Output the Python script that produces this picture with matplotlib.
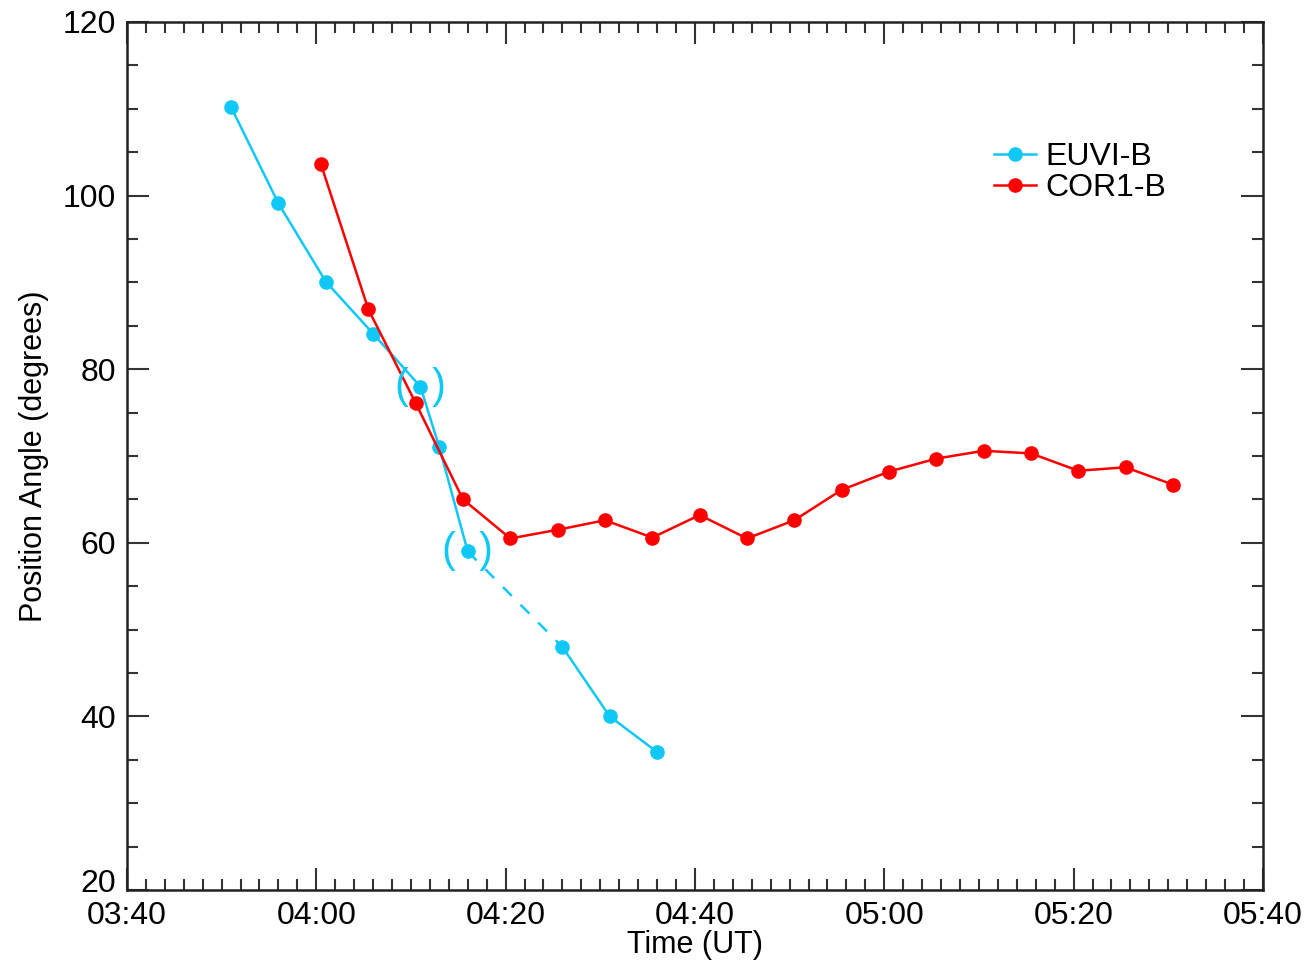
import matplotlib
matplotlib.use("Agg")
import matplotlib.pyplot as plt
import matplotlib.transforms as mtransforms
from matplotlib.ticker import MultipleLocator, FuncFormatter

# minutes after 03:40 UT
euvi_t = [11, 16, 21, 26, 31, 33, 36, 46, 51, 56]
euvi_pa = [110.2, 99.1, 90.1, 84.1, 78.0, 71.0, 59.0, 48.0, 40.0, 35.9]
euvi_uncertain = [31, 36]          # points shown in brackets
euvi_gap = (36, 46)                # dashed interpolation segment

cor1_t = [20.5, 25.5, 30.5, 35.5, 40.5, 45.5, 50.5, 55.5, 60.5, 65.5, 70.5,
          75.5, 80.5, 85.5, 90.5, 95.5, 100.5, 105.5, 110.5]
cor1_pa = [103.6, 86.9, 76.1, 65.0, 60.5, 61.5, 62.6, 60.6, 63.2, 60.5, 62.6,
           66.1, 68.2, 69.7, 70.6, 70.3, 68.3, 68.7, 66.7]

cyan = "#10c8f5"
red = "#ff0000"

plt.rcParams["font.family"] = ["Liberation Sans", "DejaVu Sans"]

fig = plt.figure(figsize=(13.06, 9.6), dpi=100)
ax = fig.add_axes([0.0972, 0.0729, 0.8698, 0.9042])

# EUVI-B: solid before and after the gap, dashed across it
i0 = euvi_t.index(euvi_gap[0])
i1 = euvi_t.index(euvi_gap[1])
ax.plot(euvi_t[:i0 + 1], euvi_pa[:i0 + 1], color=cyan, lw=1.8, marker="o", ms=9.5,
        label="EUVI-B")
ax.plot(euvi_t[i0:i1 + 1], euvi_pa[i0:i1 + 1], color=cyan, lw=1.8, ls=(0, (5, 5)))
ax.plot(euvi_t[i1:], euvi_pa[i1:], color=cyan, lw=1.8, marker="o", ms=9.5)

ax.plot(cor1_t, cor1_pa, color=red, lw=1.8, marker="o", ms=9.5, label="COR1-B")

for t in euvi_uncertain:
    pa = euvi_pa[euvi_t.index(t)]
    ax.text(t, pa, "(  )", color=cyan, fontsize=30, ha="center", va="center")

ax.set_xlim(0, 120)
ax.set_ylim(20, 120)
ax.xaxis.set_major_locator(MultipleLocator(20))
ax.xaxis.set_minor_locator(MultipleLocator(2))
ax.yaxis.set_major_locator(MultipleLocator(20))
ax.yaxis.set_minor_locator(MultipleLocator(5))


def hhmm(v, pos):
    m = int(round(v)) + 3 * 60 + 40
    return f"{m // 60:02d}:{m % 60:02d}"


ax.xaxis.set_major_formatter(FuncFormatter(hhmm))
ax.tick_params(which="both", direction="in", top=True, right=True,
               labelsize=23, width=1.5, color="#333333")
ax.tick_params(which="major", length=16, pad=8)
ax.tick_params(which="minor", length=8)
for s in ax.spines.values():
    s.set_linewidth(1.8)
    s.set_color("#222222")

ax.set_xlabel("Time (UT)", fontsize=22, labelpad=-1)
ax.set_ylabel("Position Angle (degrees)", fontsize=22, labelpad=10)

ax.legend(loc="upper left", bbox_to_anchor=(0.738, 0.895), frameon=False,
          fontsize=23, handlelength=1.3, handletextpad=0.3, labelspacing=0.05)

# lift the bottom y label a little, so it clears 03:40
fig.canvas.draw()
for tk in ax.yaxis.get_major_ticks():
    if abs(tk.get_loc() - 20) < 1e-6:
        lab = tk.label1
        lab.set_transform(lab.get_transform() +
                          mtransforms.ScaledTranslation(0, 0.1, fig.dpi_scale_trans))

fig.savefig("out.png", dpi=100)
